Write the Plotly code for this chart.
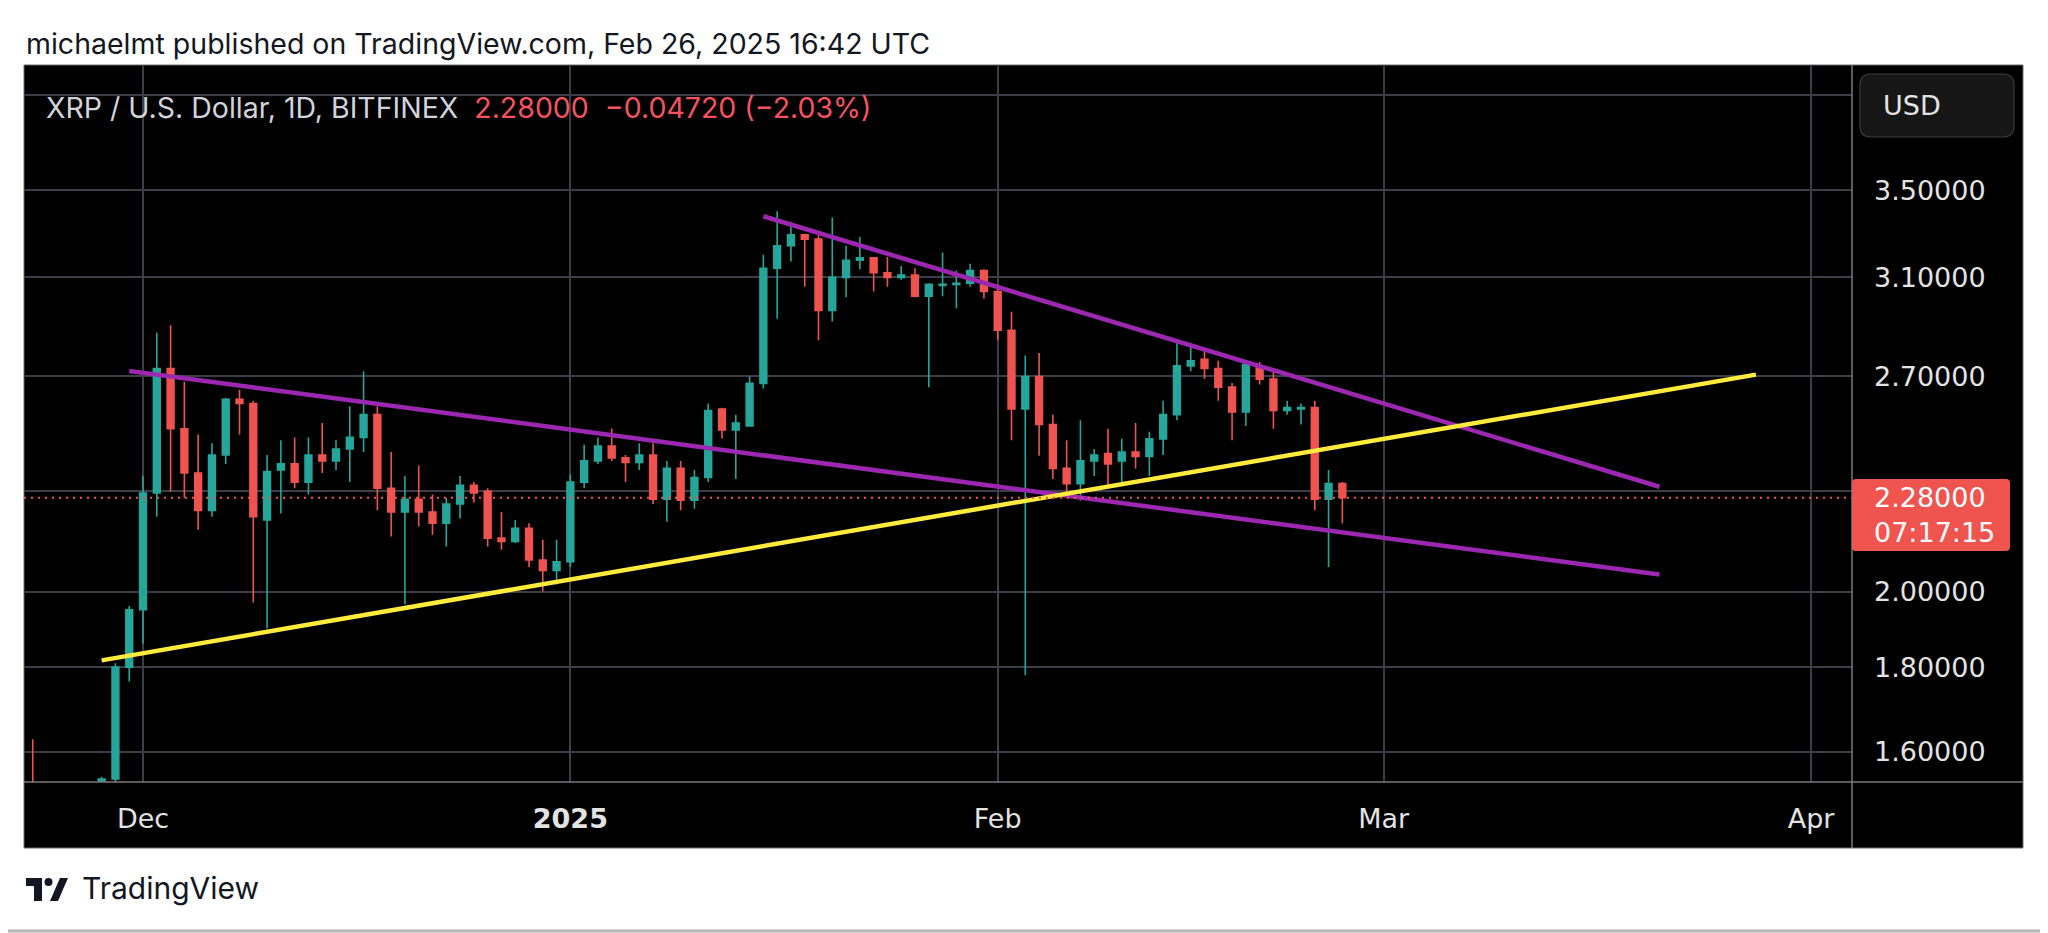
import plotly.graph_objects as go

# ---------------- data ----------------
dates = [
    "2024-11-23", "2024-11-28", "2024-11-29", "2024-11-30",
    "2024-12-01", "2024-12-02", "2024-12-03", "2024-12-04", "2024-12-05", "2024-12-06", "2024-12-07",
    "2024-12-08", "2024-12-09", "2024-12-10", "2024-12-11", "2024-12-12", "2024-12-13", "2024-12-14",
    "2024-12-15", "2024-12-16", "2024-12-17", "2024-12-18", "2024-12-19", "2024-12-20", "2024-12-21",
    "2024-12-22", "2024-12-23", "2024-12-24", "2024-12-25", "2024-12-26", "2024-12-27", "2024-12-28",
    "2024-12-29", "2024-12-30", "2024-12-31",
    "2025-01-01", "2025-01-02", "2025-01-03", "2025-01-04", "2025-01-05", "2025-01-06", "2025-01-07",
    "2025-01-08", "2025-01-09", "2025-01-10", "2025-01-11", "2025-01-12", "2025-01-13", "2025-01-14",
    "2025-01-15", "2025-01-16", "2025-01-17", "2025-01-18", "2025-01-19", "2025-01-20", "2025-01-21",
    "2025-01-22", "2025-01-23", "2025-01-24", "2025-01-25", "2025-01-26", "2025-01-27", "2025-01-28",
    "2025-01-29", "2025-01-30", "2025-01-31",
    "2025-02-01", "2025-02-02", "2025-02-03", "2025-02-04", "2025-02-05", "2025-02-06", "2025-02-07",
    "2025-02-08", "2025-02-09", "2025-02-10", "2025-02-11", "2025-02-12", "2025-02-13", "2025-02-14",
    "2025-02-15", "2025-02-16", "2025-02-17", "2025-02-18", "2025-02-19", "2025-02-20", "2025-02-21",
    "2025-02-22", "2025-02-23", "2025-02-24", "2025-02-25", "2025-02-26",
]
opens = [
    1.50, 1.50, 1.54, 1.80,
    1.95, 2.295, 2.73, 2.51, 2.36, 2.24, 2.42,
    2.615, 2.60, 2.21, 2.37, 2.39, 2.33, 2.42,
    2.40, 2.44, 2.48, 2.56, 2.31, 2.235, 2.275,
    2.235, 2.20, 2.26, 2.32, 2.30, 2.155, 2.145,
    2.185, 2.09, 2.06,
    2.085, 2.33, 2.40, 2.45, 2.41, 2.395, 2.42,
    2.275, 2.375, 2.272, 2.345, 2.58, 2.506, 2.52,
    2.674, 3.14, 3.24, 3.29, 3.27, 2.96, 3.10,
    3.175, 3.186, 3.12, 3.10, 3.11, 3.02, 3.065,
    3.07, 3.075, 3.13,
    3.04, 2.88, 2.58, 2.70, 2.525, 2.375, 2.325,
    2.40, 2.425, 2.40, 2.43, 2.415, 2.475, 2.56,
    2.74, 2.765, 2.73, 2.66, 2.57, 2.74, 2.69,
    2.575, 2.58, 2.585, 2.275, 2.325,
]
highs = [
    1.628, 1.545, 1.81, 1.96,
    2.35, 2.87, 2.90, 2.68, 2.49, 2.46, 2.62,
    2.65, 2.61, 2.42, 2.47, 2.48, 2.48, 2.53,
    2.47, 2.59, 2.72, 2.59, 2.43, 2.35, 2.385,
    2.29, 2.28, 2.35, 2.33, 2.31, 2.235, 2.21,
    2.20, 2.15, 2.15,
    2.355, 2.455, 2.48, 2.51, 2.42, 2.46, 2.46,
    2.40, 2.40, 2.37, 2.60, 2.585, 2.56, 2.70,
    3.20, 3.40, 3.35, 3.295, 3.30, 3.37, 3.24,
    3.28, 3.19, 3.19, 3.15, 3.14, 3.075, 3.21,
    3.13, 3.16, 3.135,
    3.07, 2.955, 2.78, 2.79, 2.56, 2.47, 2.54,
    2.44, 2.51, 2.475, 2.53, 2.50, 2.61, 2.83,
    2.83, 2.80, 2.76, 2.675, 2.75, 2.755, 2.72,
    2.61, 2.60, 2.61, 2.37, 2.33,
]
lows = [
    1.45, 1.47, 1.52, 1.764,
    1.86, 2.22, 2.30, 2.28, 2.18, 2.22, 2.39,
    2.49, 1.97, 1.90, 2.23, 2.31, 2.29, 2.36,
    2.37, 2.33, 2.43, 2.24, 2.16, 1.965, 2.19,
    2.165, 2.13, 2.215, 2.265, 2.13, 2.12, 2.14,
    2.07, 2.00, 2.02,
    2.07, 2.31, 2.39, 2.40, 2.33, 2.37, 2.26,
    2.205, 2.24, 2.245, 2.33, 2.476, 2.34, 2.52,
    2.655, 2.926, 3.17, 3.06, 2.84, 2.915, 3.015,
    3.135, 3.04, 3.06, 3.09, 3.015, 2.66, 3.02,
    2.97, 3.06, 3.01,
    2.84, 2.47, 1.78, 2.417, 2.34, 2.30, 2.27,
    2.35, 2.32, 2.33, 2.375, 2.35, 2.42, 2.54,
    2.72, 2.69, 2.61, 2.47, 2.52, 2.67, 2.51,
    2.56, 2.525, 2.24, 2.07, 2.20,
]
closes = [
    1.46, 1.54, 1.80, 1.95,
    2.295, 2.73, 2.51, 2.36, 2.24, 2.42, 2.615,
    2.60, 2.22, 2.365, 2.39, 2.33, 2.42, 2.40,
    2.44, 2.48, 2.56, 2.31, 2.235, 2.275, 2.235,
    2.20, 2.26, 2.32, 2.295, 2.155, 2.145, 2.185,
    2.09, 2.06, 2.085,
    2.33, 2.40, 2.45, 2.41, 2.395, 2.42, 2.275,
    2.375, 2.272, 2.345, 2.575, 2.506, 2.53, 2.674,
    3.14, 3.24, 3.29, 3.27, 2.96, 3.10, 3.175,
    3.186, 3.12, 3.10, 3.11, 3.02, 3.07, 3.07,
    3.075, 3.13, 3.04,
    2.88, 2.58, 2.70, 2.525, 2.375, 2.325, 2.40,
    2.42, 2.39, 2.43, 2.415, 2.475, 2.56, 2.74,
    2.76, 2.73, 2.66, 2.57, 2.745, 2.69, 2.575,
    2.585, 2.585, 2.275, 2.325, 2.28,
]

# trend lines (drawn objects): endpoints in date / price
upper_left_dates = ["2024-11-30", "2025-03-21"]
upper_left_prices = [2.721, 2.048]
upper_right_dates = ["2025-01-15", "2025-03-21"]
upper_right_prices = [3.376, 2.315]
support_dates = ["2024-11-28", "2025-03-28"]
support_prices = [1.817, 2.707]

last_price = 2.28

x_tick_vals = ["2024-12-01", "2025-01-01", "2025-02-01", "2025-03-01", "2025-04-01"]
x_tick_text = ["Dec", "<b>2025</b>", "Feb", "Mar", "Apr"]
y_tick_vals = [1.6, 1.8, 2.0, 2.3, 2.7, 3.1, 3.5, 4.0]
y_tick_text = ["1.60000", "1.80000", "2.00000", "", "2.70000", "3.10000", "3.50000", ""]

header_text = "michaelmt published on TradingView.com, Feb 26, 2025 16:42 UTC"
legend_title = "XRP / U.S. Dollar, 1D, BITFINEX"
legend_values = "2.28000  \u22120.04720 (\u22122.03%)"
countdown = "07:17:15"

# ---------------- styling ----------------
# page coordinates (the html body adds an 8px margin around the figure)
OFF = 8
W, H = 2048 - OFF, 933 - OFF
PL, PR, PT, PB = 24, 1852, 65, 782
UP = "#26a69a"
DOWN = "#ef5350"
GRID = "#3b3e48"
SEP = "#7a7a7a"
TXT = "#e3e3e3"
FONT = "Inter, Roboto, sans-serif"
AXFONT = "DejaVu Sans, sans-serif"


def px(x):
    return (x - PL) / (PR - PL)


def py(y):
    return (PB - y) / (PB - PT)


def pt(x, y):
    return f"{px(x):.6f},{py(y):.6f}"


def rrect(x0, y0, x1, y1, r):
    return (f"M {pt(x0 + r, y0)} L {pt(x1 - r, y0)} Q {pt(x1, y0)} {pt(x1, y0 + r)} "
            f"L {pt(x1, y1 - r)} Q {pt(x1, y1)} {pt(x1 - r, y1)} L {pt(x0 + r, y1)} "
            f"Q {pt(x0, y1)} {pt(x0, y1 - r)} L {pt(x0, y0 + r)} Q {pt(x0, y0)} {pt(x0 + r, y0)} Z")


fig = go.Figure()

fig.add_trace(go.Candlestick(
    x=dates, open=opens, high=highs, low=lows, close=closes,
    increasing=dict(line=dict(color=UP, width=1.6), fillcolor=UP),
    decreasing=dict(line=dict(color=DOWN, width=1.6), fillcolor=DOWN),
    whiskerwidth=0, showlegend=False, hoverinfo="skip",
))

for xs, ys, col in [
    (upper_left_dates, upper_left_prices, "#9c27b0"),
    (upper_right_dates, upper_right_prices, "#9c27b0"),
    (support_dates, support_prices, "#ffeb3b"),
]:
    fig.add_trace(go.Scatter(x=xs, y=ys, mode="lines",
                             line=dict(color=col, width=4.5),
                             showlegend=False, hoverinfo="skip"))

shapes = [
    dict(type="rect", xref="paper", yref="paper", x0=px(24), x1=px(2023), y0=py(848), y1=py(65),
         fillcolor="#000000", line=dict(color="#6a6a6a", width=1), layer="below"),
    dict(type="line", xref="paper", yref="y", x0=0, x1=1, y0=last_price, y1=last_price,
         line=dict(color=DOWN, width=2, dash="2px,5px"), layer="above"),
    dict(type="line", xref="paper", yref="paper", x0=px(1852), x1=px(1852), y0=py(848), y1=py(65),
         line=dict(color=SEP, width=1.5)),
    dict(type="line", xref="paper", yref="paper", x0=px(24), x1=px(2023), y0=py(782), y1=py(782),
         line=dict(color=SEP, width=1.5)),
    dict(type="path", xref="paper", yref="paper", path=rrect(1860, 74, 2014, 137, 11),
         fillcolor="#161616", line=dict(color="#3a3a3a", width=1.2)),
    dict(type="path", xref="paper", yref="paper", path=rrect(1852, 479, 2010, 551, 4),
         fillcolor="#f0544f", line=dict(width=0)),
    dict(type="line", xref="paper", yref="paper", x0=px(8), x1=px(2048), y0=py(931), y1=py(931),
         line=dict(color="#b5b5b5", width=3)),
    dict(type="path", xref="paper", yref="paper",
         path=f"M {pt(26, 878)} L {pt(42, 878)} L {pt(42, 901)} L {pt(34, 901)} L {pt(34, 886)} L {pt(26, 886)} Z",
         fillcolor="#131722", line=dict(width=0)),
    dict(type="circle", xref="paper", yref="paper", x0=px(44.5), x1=px(52.5), y0=py(886), y1=py(878),
         fillcolor="#131722", line=dict(width=0)),
    dict(type="path", xref="paper", yref="paper",
         path=f"M {pt(50, 901)} L {pt(58, 901)} L {pt(68, 878)} L {pt(60, 878)} Z",
         fillcolor="#131722", line=dict(width=0)),
]

annotations = [
    dict(xref="paper", yref="paper", x=px(24), y=py(43), xanchor="left", yanchor="middle",
         text=header_text, showarrow=False, font=dict(family=FONT, size=28.5, color="#131722")),
    dict(xref="paper", yref="paper", x=px(44), y=py(107), xanchor="left", yanchor="middle",
         text=f"{legend_title}  <span style='color:#f7525f'>{legend_values}</span>",
         showarrow=False, font=dict(family=FONT, size=28.5, color="#d1d4dc")),
    dict(xref="paper", yref="paper", x=px(1881), y=py(105), xanchor="left", yanchor="middle",
         text="USD", showarrow=False, font=dict(family=AXFONT, size=27, color=TXT)),
    dict(xref="paper", yref="paper", x=px(1872), y=py(515), xanchor="left", yanchor="middle",
         text=f"{last_price:.5f}<br>{countdown}", showarrow=False, align="left",
         font=dict(family=AXFONT, size=27, color="#ffffff")),
    dict(xref="paper", yref="paper", x=px(80), y=py(888), xanchor="left", yanchor="middle",
         text="TradingView", showarrow=False, font=dict(family=FONT, size=30, color="#131722")),
]

fig.update_layout(
    width=W, height=H,
    margin=dict(l=PL - OFF, r=W - (PR - OFF), t=PT - OFF, b=H - (PB - OFF), pad=0),
    paper_bgcolor="#ffffff", plot_bgcolor="#000000",
    showlegend=False, hovermode=False,
    shapes=shapes, annotations=annotations,
    boxgap=0.3,
    xaxis=dict(
        type="date", range=["2024-11-22 08:48", "2025-04-03 23:17"],
        tickmode="array", tickvals=x_tick_vals, ticktext=x_tick_text,
        showgrid=True, gridcolor=GRID, gridwidth=1.5, zeroline=False, showline=False,
        ticks="", ticklabelstandoff=18,
        tickfont=dict(family=AXFONT, size=27, color=TXT),
        rangeslider=dict(visible=False), fixedrange=True,
    ),
    yaxis=dict(
        type="log", side="right", range=[0.18569, 0.62004],
        tickmode="array", tickvals=y_tick_vals, ticktext=y_tick_text,
        showgrid=True, gridcolor=GRID, gridwidth=1.5, zeroline=False, showline=False,
        ticks="", ticklabelstandoff=21,
        tickfont=dict(family=AXFONT, size=27, color=TXT), fixedrange=True,
    ),
)

fig.write_html("out.html")
